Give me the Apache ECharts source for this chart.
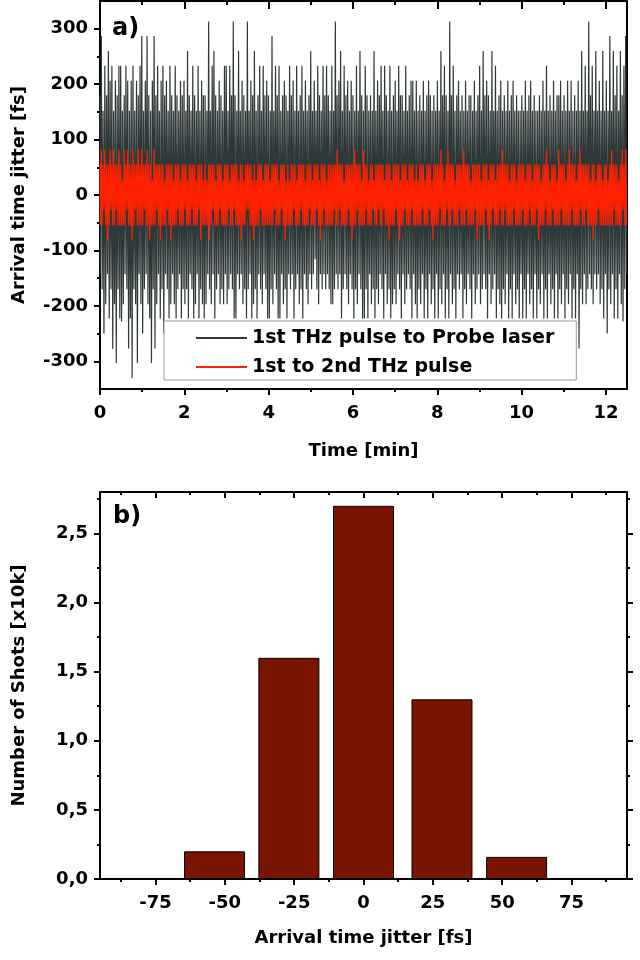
<!DOCTYPE html>
<html>
<head>
<meta charset="utf-8">
<script src="https://cdn.jsdelivr.net/npm/echarts@6/dist/echarts.min.js"></script>
<style>
html,body{margin:0;padding:0;background:#fff;}
#chart{width:640px;height:960px;}
</style>
</head>
<body>
<div id="chart"></div>
<script>
// ---------- DATA ----------
// Panel a: arrival time jitter over 12.5 min (fs)
const timeEndMin = 12.5;
const probeJitter = [
 180,-143,287,-170,152,-250,233,-197,180,-143,260,-223,206,-170,233,-278,152,-197,206,-303,180,-170,233,-223,
 233,-228,152,-197,180,-143,233,-170,206,-277,152,-223,206,-330,233,-170,152,-197,206,-303,180,-143,233,-197,
 287,-250,152,-170,206,-143,287,-197,180,-223,152,-303,206,-170,287,-277,180,-197,233,-143,152,-223,206,-170,
 233,-250,180,-143,206,-170,152,-223,233,-197,180,-143,152,-197,233,-223,180,-170,152,-143,206,-223,180,-170,
 206,-197,152,-170,260,-223,180,-143,152,-170,233,-223,180,-197,152,-143,233,-223,152,-170,206,-197,180,-223,
 180,-197,152,-143,313,-170,152,-197,233,-143,260,-223,180,-170,152,-143,206,-197,180,-170,152,-197,233,-143,
 233,-197,152,-170,233,-143,180,-170,313,-223,180,-223,152,-143,260,-170,152,-143,206,-197,180,-170,152,-223,
 313,-170,152,-143,206,-223,180,-197,260,-170,152,-223,180,-143,233,-170,152,-197,233,-143,180,-170,206,-223,
 180,-223,152,-170,287,-197,152,-143,233,-170,180,-223,233,-223,152,-143,180,-197,206,-170,180,-223,152,-143,
 233,-170,180,-143,206,-223,152,-170,233,-143,152,-197,180,-170,233,-223,152,-143,206,-170,152,-197,180,-143,
 260,-170,152,-143,206,-116,152,-170,233,-197,180,-143,152,-170,233,-143,180,-170,233,-143,180,-170,152,-197,
 233,-197,152,-170,313,-143,180,-170,206,-143,260,-223,152,-170,233,-143,180,-170,206,-197,152,-143,206,-170,
 180,-223,152,-170,233,-197,152,-143,260,-170,180,-223,152,-223,233,-170,180,-223,152,-143,180,-197,152,-170,
 260,-223,152,-170,206,-197,180,-143,233,-170,152,-223,233,-143,180,-197,152,-170,233,-223,152,-197,180,-170,
 206,-197,152,-143,233,-170,180,-223,180,-143,152,-197,233,-170,152,-143,180,-170,206,-223,206,-143,152,-197,
 206,-223,152,-170,180,-197,152,-143,206,-223,152,-170,180,-223,206,-143,180,-197,152,-170,180,-223,152,-143,
 206,-223,152,-170,260,-197,180,-143,233,-223,180,-170,152,-223,313,-143,180,-197,233,-170,152,-223,180,-143,
 206,-170,152,-143,180,-223,152,-170,206,-197,152,-143,180,-170,180,-223,152,-143,206,-197,152,-170,180,-143,
 233,-197,152,-170,260,-143,180,-170,206,-223,180,-143,152,-197,260,-170,152,-143,233,-223,152,-170,180,-197,
 206,-223,152,-170,180,-197,152,-143,206,-223,152,-170,180,-223,206,-143,152,-197,180,-170,152,-223,152,-143,
 180,-223,152,-170,206,-223,152,-143,180,-197,206,-170,152,-223,180,-143,152,-223,152,-170,180,-197,152,-143,
 206,-223,152,-170,233,-223,152,-143,180,-197,152,-170,206,-223,152,-143,180,-223,180,-170,206,-197,152,-143,
 180,-223,152,-170,206,-197,152,-143,206,-223,152,-170,180,-223,152,-143,206,-277,152,-170,260,-197,152,-143,
 233,-197,152,-170,313,-143,180,-170,233,-197,152,-143,260,-170,152,-143,206,-197,152,-170,260,-223,152,-143,
 206,-250,152,-170,287,-197,152,-143,260,-223,180,-170,233,-223,152,-143,260,-197,180,-228,233,-170,287,-143
];
const thzJitter = [
 55,-55,82,-55,55,-27,82,-55,55,-82,55,-55,82,-27,55,-55,82,-55,55,-27,55,-55,82,-55,
 55,-55,27,-55,82,-55,55,-27,82,-55,55,-55,55,-82,82,-55,55,-27,55,-55,82,-55,55,-55,
 82,-55,55,-27,55,-55,82,-55,55,-82,55,-55,27,-55,82,-55,55,-27,55,-55,55,-82,55,-55,
 55,-55,27,-55,55,-27,55,-55,55,-82,55,-55,27,-55,55,-55,55,-27,55,-55,27,-55,55,-55,
 55,-27,55,-55,27,-55,55,-55,55,-27,55,-55,55,-55,27,-55,55,-27,55,-82,55,-55,27,-55,
 55,-55,27,-55,55,-82,55,-55,55,-27,55,-55,27,-55,55,-55,55,-27,55,-55,27,-55,55,-55,
 55,-55,55,-27,27,-55,55,-55,55,-27,55,-55,55,-55,27,-55,55,-82,55,-55,27,-55,55,-27,
 55,-27,55,-55,55,-55,27,-82,55,-55,27,-55,55,-55,55,-27,55,-55,27,-55,55,-55,55,-55,
 55,-55,27,-55,55,-55,55,-27,55,-55,55,-55,27,-55,55,-27,55,-55,55,-82,27,-55,55,-55,
 27,-55,55,-55,55,-27,55,-55,27,-55,55,-55,55,-27,55,-55,55,-55,27,-55,55,-55,55,-27,
 55,-55,27,-55,55,-55,55,-27,55,-55,27,-82,55,-55,55,-27,55,-55,27,-55,55,-55,55,-55,
 55,-55,55,-27,55,-55,82,-55,55,-27,55,-55,55,-55,27,-55,55,-55,55,-27,55,-55,55,-82,
 55,-55,82,-55,55,-27,55,-55,55,-55,27,-55,82,-55,55,-27,55,-55,27,-55,55,-55,55,-27,
 27,-55,55,-55,55,-27,55,-55,55,-55,55,-27,27,-55,55,-55,55,-82,55,-55,27,-55,55,-55,
 55,-27,55,-55,55,-82,27,-55,55,-55,55,-27,55,-55,27,-55,55,-55,55,-27,55,-55,27,-55,
 55,-55,27,-55,55,-55,55,-27,55,-55,27,-55,55,-55,55,-27,55,-55,27,-82,55,-55,55,-55,
 55,-55,55,-27,82,-55,55,-55,27,-55,55,-27,82,-55,55,-55,55,-27,55,-55,27,-55,55,-55,
 55,-27,55,-55,55,-55,82,-55,55,-27,55,-55,55,-55,27,-55,55,-55,55,-27,55,-82,55,-55,
 55,-55,27,-55,55,-55,55,-27,55,-55,27,-82,55,-55,55,-27,55,-55,27,-55,55,-55,55,-27,
 55,-55,82,-55,55,-27,55,-55,55,-55,27,-55,55,-55,55,-27,55,-55,27,-55,55,-55,55,-55,
 55,-27,55,-55,27,-55,55,-55,55,-27,55,-55,27,-55,55,-55,55,-27,55,-82,55,-55,27,-55,
 55,-55,55,-27,82,-55,55,-55,27,-55,55,-27,55,-55,55,-55,27,-55,82,-55,55,-27,55,-55,
 55,-55,27,-55,55,-55,82,-55,55,-27,55,-55,55,-55,27,-55,55,-55,82,-27,55,-55,55,-55,
 55,-27,55,-55,55,-55,27,-55,55,-82,55,-55,27,-55,55,-27,55,-55,55,-55,27,-55,55,-55,
 55,-55,27,-55,55,-55,82,-55,55,-27,55,-55,55,-55,27,-55,55,-55,82,-27,55,-55,82,-55
];
const seriesNames = ['1st THz pulse to Probe laser', '1st to 2nd THz pulse'];
const timeTicks = [0, 2, 4, 6, 8, 10, 12];
const timeMinorTicks = [1, 3, 5, 7, 9, 11];
const jitterTicks = [-300, -200, -100, 0, 100, 200, 300];
const jitterMinorTicks = [-250, -150, -50, 50, 150, 250];

// Panel b: histogram
const binCenters = [-53.7, -26.9, 0, 28.3, 55.2];
const shotCounts = [0.20, 1.60, 2.70, 1.30, 0.16];
const histXTicks = [-75, -50, -25, 0, 25, 50, 75];
const histXMinorTicks = [-87.5, -62.5, -37.5, -12.5, 12.5, 37.5, 62.5, 87.5];
const histYTicks = [0, 0.5, 1.0, 1.5, 2.0, 2.5];
const histYMinorTicks = [0.25, 0.75, 1.25, 1.75, 2.25, 2.75];

// ---------- CHART ----------
const FONT = 'DejaVu Sans';
const txt = (size) => ({fontFamily: FONT, fontWeight: 'bold', fontSize: size, color: '#000'});
const axLine = {show: true, onZero: false, lineStyle: {color: '#000', width: 2}};
const noLine = {show: false, onZero: false};
const tick = (vals, len, inside) => ({show: true, customValues: vals, length: len, inside: !!inside, lineStyle: {color: '#000', width: 2}});

function xAx(grid, pos, min, max, extra) {
  return Object.assign({gridIndex: grid, type: 'value', position: pos, min: min, max: max,
    splitLine: {show: false}, axisLabel: {show: false}, axisLine: noLine, axisTick: {show: false}}, extra);
}
function yAx(grid, pos, min, max, extra) {
  return Object.assign({gridIndex: grid, type: 'value', position: pos, min: min, max: max,
    splitLine: {show: false}, axisLabel: {show: false}, axisLine: noLine, axisTick: {show: false}}, extra);
}

const probeData = probeJitter.map((v, i) => [i * timeEndMin / (probeJitter.length - 1), v]);
const thzData = thzJitter.map((v, i) => [i * timeEndMin / (thzJitter.length - 1), v]);
const histData = binCenters.map((c, i) => [c, shotCounts[i]]);

const commaFmt = (v) => v.toFixed(1).replace('.', ',');

const option = {
  animation: false,
  backgroundColor: '#fff',
  grid: [
    {left: 100, top: 1, width: 527, height: 388, outerBoundsMode: 'none'},
    {left: 100, top: 492, width: 527, height: 387, outerBoundsMode: 'none'}
  ],
  xAxis: [
    xAx(0, 'bottom', 0, timeEndMin, {
      axisLine: axLine, axisTick: tick(timeTicks, 6),
      axisLabel: Object.assign({show: true, customValues: timeTicks, margin: 15}, txt(18)),
      name: 'Time [min]', nameLocation: 'middle', nameGap: 53, nameTextStyle: txt(18)
    }),
    xAx(0, 'bottom', 0, timeEndMin, {axisTick: tick(timeMinorTicks, 3)}),
    xAx(0, 'top', 0, timeEndMin, {axisLine: axLine, axisTick: tick(timeTicks, 8, true)}),
    xAx(0, 'top', 0, timeEndMin, {axisTick: tick(timeMinorTicks, 4, true)}),
    xAx(1, 'bottom', -95, 95, {
      axisLine: axLine, axisTick: tick(histXTicks, 6),
      axisLabel: Object.assign({show: true, customValues: histXTicks, margin: 15}, txt(18)),
      name: 'Arrival time jitter [fs]', nameLocation: 'middle', nameGap: 50, nameTextStyle: txt(18)
    }),
    xAx(1, 'bottom', -95, 95, {axisTick: tick(histXMinorTicks, 3)}),
    xAx(1, 'top', -95, 95, {axisLine: axLine, axisTick: tick(histXTicks, 6, true)}),
    xAx(1, 'top', -95, 95, {axisTick: tick(histXMinorTicks, 3, true)})
  ],
  yAxis: [
    yAx(0, 'left', -350, 350, {
      axisLine: axLine, axisTick: tick(jitterTicks, 6),
      axisLabel: Object.assign({show: true, customValues: jitterTicks, margin: 12}, txt(18)),
      name: 'Arrival time jitter [fs]', nameLocation: 'middle', nameGap: 72, nameTextStyle: txt(18)
    }),
    yAx(0, 'left', -350, 350, {axisTick: tick(jitterMinorTicks, 3)}),
    yAx(0, 'right', -350, 350, {axisLine: axLine}),
    yAx(1, 'left', 0, 2.8, {
      axisLine: axLine, axisTick: tick(histYTicks, 6),
      axisLabel: Object.assign({show: true, customValues: histYTicks, margin: 12, formatter: commaFmt}, txt(18)),
      name: 'Number of Shots [x10k]', nameLocation: 'middle', nameGap: 72, nameTextStyle: txt(18)
    }),
    yAx(1, 'left', 0, 2.8, {axisTick: tick(histYMinorTicks, 3)}),
    yAx(1, 'right', 0, 2.8, {axisLine: axLine, axisTick: tick(histYTicks, 6)}),
    yAx(1, 'right', 0, 2.8, {axisTick: tick(histYMinorTicks, 3)})
  ],
  legend: {
    show: true, orient: 'vertical', left: 164, top: 321,
    data: seriesNames, icon: 'rect',
    padding: [6, 22, 2, 32], itemGap: 7, itemWidth: 51, itemHeight: 2,
    backgroundColor: '#fff', borderColor: '#999', borderWidth: 1,
    selectedMode: false,
    textStyle: Object.assign({lineHeight: 22}, txt(19))
  },
  graphic: [
    {type: 'text', left: 112, top: 17, style: {text: 'a)', fill: '#000', font: 'bold 24px "DejaVu Sans"'}},
    {type: 'text', left: 113, top: 505, style: {text: 'b)', fill: '#000', font: 'bold 24px "DejaVu Sans"'}}
  ],
  series: [
    {name: seriesNames[0], type: 'line', step: 'middle', xAxisIndex: 0, yAxisIndex: 0, data: probeData,
     symbol: 'none', lineStyle: {color: '#2f3838', width: 1.2}, itemStyle: {color: '#2f3838'}, z: 2},
    {name: seriesNames[1], type: 'line', step: 'middle', xAxisIndex: 0, yAxisIndex: 0, data: thzData,
     symbol: 'none', lineStyle: {color: '#ff2200', width: 1.2}, itemStyle: {color: '#ff2200'}, z: 3},
    {name: 'histogram', type: 'bar', xAxisIndex: 4, yAxisIndex: 3, data: histData, barWidth: 61,
     itemStyle: {color: '#7a1500', borderColor: '#000', borderWidth: 1}}
  ]
};

const chart = echarts.init(document.getElementById('chart'), null, {renderer: 'canvas'});
chart.setOption(option);
</script>
</body>
</html>
